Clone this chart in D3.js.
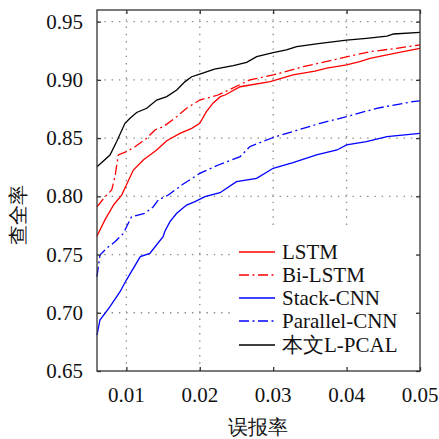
<!DOCTYPE html>
<html><head><meta charset="utf-8">
<script src="https://cdn.jsdelivr.net/npm/d3@7"></script>
</head><body style="margin:0">
<script>
const xTicks = [0.01, 0.02, 0.03, 0.04, 0.05];
const yTicks = [0.65, 0.70, 0.75, 0.80, 0.85, 0.90, 0.95];
const seriesNames = ["LSTM", "Bi-LSTM", "Stack-CNN", "Parallel-CNN", "本文L-PCAL"];
const seriesColors = ["#ff0000", "#ff0000", "#0000ff", "#0000ff", "#000000"];
const seriesDashed = [false, true, false, true, false];

const lstm = [[0.006,0.7660],[0.0071,0.7800],[0.0083,0.7930],[0.00936,0.8011],[0.0100,0.8097],[0.01095,0.8226],[0.0123,0.8312],[0.01413,0.8398],[0.0155,0.8478],[0.0173,0.8541],[0.0189,0.8584],[0.0200,0.8627],[0.0209,0.8727],[0.0218,0.8800],[0.0228,0.8856],[0.02344,0.8870],[0.0255,0.8941],[0.0296,0.8985],[0.0327,0.9042],[0.0357,0.9076],[0.0373,0.9100],[0.0400,0.9128],[0.0418,0.9156],[0.0432,0.9185],[0.0455,0.9214],[0.0477,0.9242],[0.0500,0.9271]];
const biLstm = [[0.006,0.7910],[0.0071,0.7997],[0.0080,0.8054],[0.00845,0.8169],[0.0089,0.8355],[0.0100,0.8383],[0.01118,0.8426],[0.01277,0.8498],[0.01345,0.8541],[0.0139,0.8570],[0.01503,0.8598],[0.01686,0.8684],[0.0182,0.8756],[0.0200,0.8827],[0.0225,0.8870],[0.0268,0.8999],[0.0300,0.9042],[0.0341,0.9113],[0.0391,0.9185],[0.0432,0.9242],[0.0468,0.9271],[0.0500,0.9300]];
const stackCnn = [[0.006,0.6809],[0.0064,0.6938],[0.00777,0.7052],[0.00914,0.7181],[0.0100,0.7281],[0.0119,0.7482],[0.0132,0.7510],[0.0141,0.7582],[0.0150,0.7653],[0.01525,0.7700],[0.01594,0.7782],[0.01686,0.7854],[0.0182,0.7925],[0.01935,0.7954],[0.0207,0.7997],[0.02276,0.8031],[0.0250,0.8126],[0.02775,0.8155],[0.0300,0.8241],[0.0327,0.8289],[0.0359,0.8355],[0.0387,0.8398],[0.0400,0.8441],[0.0427,0.8469],[0.0455,0.8512],[0.0500,0.8541]];
const parallelCnn = [[0.006,0.7310],[0.0064,0.7496],[0.0073,0.7553],[0.00845,0.7610],[0.0096,0.7682],[0.01026,0.7768],[0.0107,0.7825],[0.01254,0.7854],[0.01367,0.7911],[0.01435,0.7968],[0.01571,0.8011],[0.01754,0.8097],[0.0200,0.8197],[0.02252,0.8269],[0.0255,0.8340],[0.0268,0.8426],[0.0300,0.8505],[0.0364,0.8627],[0.0400,0.8684],[0.0441,0.8756],[0.0490,0.8813],[0.0500,0.8820]];
const lPcal = [[0.006,0.8254],[0.00777,0.8355],[0.00868,0.8470],[0.00981,0.8627],[0.0105,0.8670],[0.0114,0.8720],[0.01277,0.8756],[0.01413,0.8827],[0.0155,0.8856],[0.01686,0.8913],[0.0180,0.8985],[0.0189,0.9027],[0.0200,0.9050],[0.0220,0.9093],[0.02457,0.9122],[0.02639,0.9150],[0.02775,0.9200],[0.0300,0.9234],[0.0318,0.9257],[0.0332,0.9285],[0.0364,0.9314],[0.0400,0.9342],[0.0427,0.9357],[0.0455,0.9376],[0.0464,0.9394],[0.0500,0.9408]];
const seriesData = [lstm, biLstm, stackCnn, parallelCnn, lPcal];

const W = 439, H = 439;
const L = 97, R = 420, T = 10, B = 371;
const x = d3.scaleLinear().domain([0.006, 0.05]).range([L, R]);
const y = d3.scaleLinear().domain([0.65, 0.96]).range([B, T]);
const DASH = "10,3.5,2,3.5";
const SERIF = '"Liberation Serif"';

const svg = d3.select("body").append("svg").attr("width", W).attr("height", H)
  .style("font-family", SERIF);

// grid
const grid = svg.append("g").attr("stroke", "#8a8a8a").attr("stroke-width", 1.3)
  .attr("stroke-dasharray", "1.4,5.9");
xTicks.filter(v => x(v) < R - 1).forEach(v => {
  grid.append("line").attr("x1", x(v)).attr("x2", x(v)).attr("y1", B).attr("y2", T);
});
yTicks.filter(v => y(v) < B - 1).forEach(v => {
  grid.append("line").attr("x1", L).attr("x2", R).attr("y1", y(v)).attr("y2", y(v));
});

// curves
const line = d3.line().x(d => x(d[0])).y(d => y(d[1]));
seriesData.forEach((d, i) => {
  svg.append("path").datum(d).attr("d", line).attr("fill", "none")
    .attr("stroke", seriesColors[i]).attr("stroke-width", 1.3)
    .attr("stroke-dasharray", seriesDashed[i] ? DASH : null);
});

// legend background
svg.append("rect").attr("x", 232).attr("y", 230).attr("width", R - 232).attr("height", B - 230).attr("fill", "#fff");

// frame
svg.append("rect").attr("x", L).attr("y", T).attr("width", R - L).attr("height", B - T)
  .attr("fill", "none").attr("stroke", "#333").attr("stroke-width", 1.3);

// tick marks (inside, all four sides)
const axB = svg.append("g").attr("transform", `translate(0,${B})`)
  .call(d3.axisBottom(x).tickValues(xTicks).tickSizeInner(-4).tickSizeOuter(0).tickFormat(""));
const axT = svg.append("g").attr("transform", `translate(0,${T})`)
  .call(d3.axisTop(x).tickValues(xTicks).tickSizeInner(-4).tickSizeOuter(0).tickFormat(""));
const axL = svg.append("g").attr("transform", `translate(${L},0)`)
  .call(d3.axisLeft(y).tickValues(yTicks).tickSizeInner(-4).tickSizeOuter(0).tickFormat(""));
const axR = svg.append("g").attr("transform", `translate(${R},0)`)
  .call(d3.axisRight(y).tickValues(yTicks).tickSizeInner(-4).tickSizeOuter(0).tickFormat(""));
[axB, axT, axL, axR].forEach(a => {
  a.select(".domain").remove();
  a.selectAll(".tick line").attr("stroke", "#333").attr("stroke-width", 1.3);
  a.selectAll("text").remove();
});

// tick labels drawn from the same scales
const fmt = d3.format(".2f");
svg.selectAll(".xl").data(xTicks).enter().append("text")
  .attr("x", d => x(d)).attr("y", 402).attr("text-anchor", "middle")
  .style("font-family", SERIF).style("font-size", "21px").attr("fill", "#111").text(fmt);
svg.selectAll(".yl").data(yTicks).enter().append("text")
  .attr("x", 83).attr("y", d => y(d) + 7).attr("text-anchor", "end")
  .style("font-family", SERIF).style("font-size", "21px").attr("fill", "#111").text(fmt);

// axis titles
svg.append("text").attr("x", 258).attr("y", 434).attr("text-anchor", "middle")
  .style("font-family", SERIF).style("font-size", "20px").attr("fill", "#111").text("误报率");
svg.append("text").attr("transform", "translate(25,215) rotate(-90)").attr("text-anchor", "middle")
  .style("font-family", SERIF).style("font-size", "20px").attr("fill", "#111").text("查全率");

// legend
const legY = [252, 275, 298, 321, 345];
seriesNames.forEach((n, i) => {
  svg.append("line").attr("x1", 239).attr("x2", 275).attr("y1", legY[i]).attr("y2", legY[i])
    .attr("stroke", seriesColors[i]).attr("stroke-width", 1.3)
    .attr("stroke-dasharray", seriesDashed[i] ? DASH : null);
  svg.append("text").attr("x", 282).attr("y", legY[i] + 7)
    .style("font-family", SERIF).style("font-size", "21px")
    .attr("fill", "#111").text(n);
});
</script>
</body></html>
